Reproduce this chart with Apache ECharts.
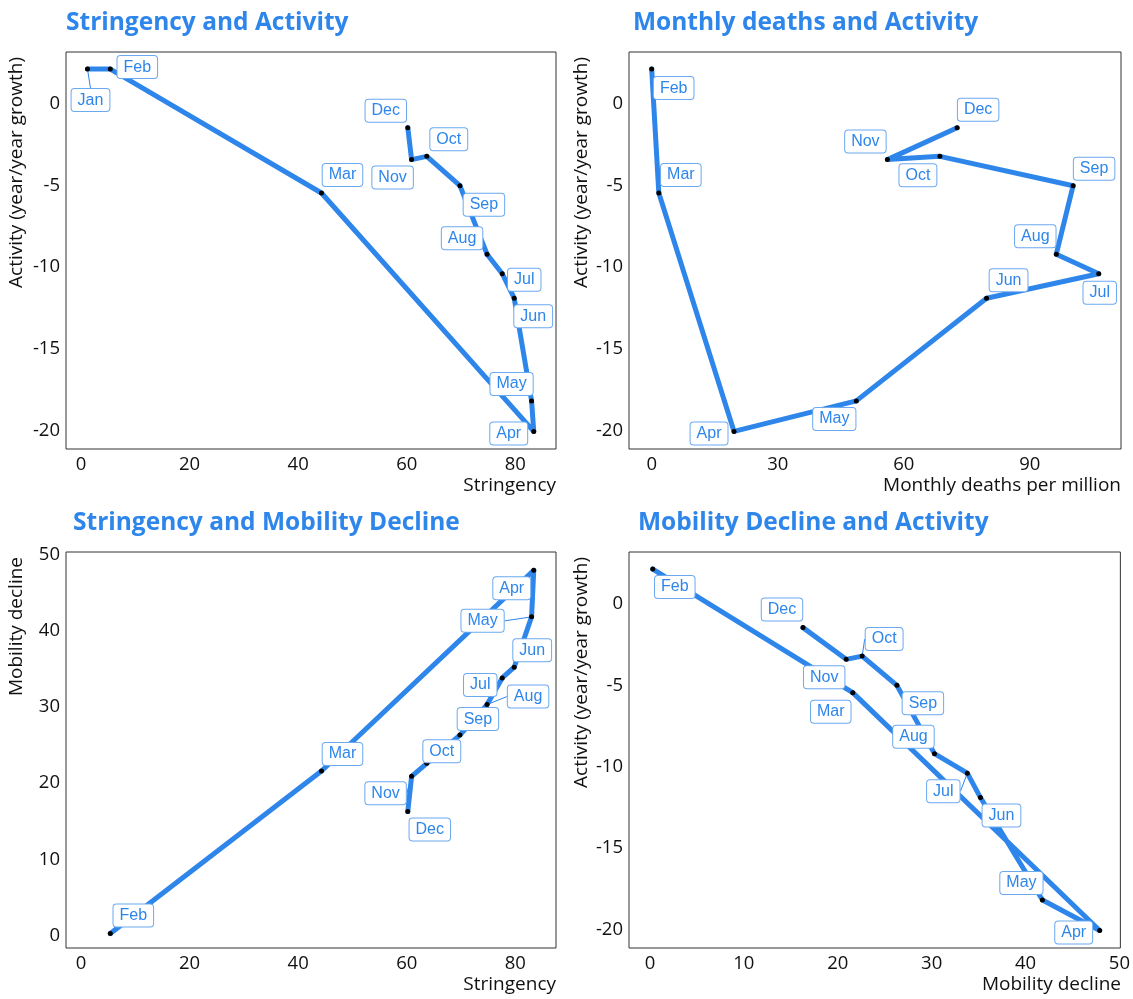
<!DOCTYPE html>
<html>
<head>
<meta charset="utf-8">
<script src="https://cdn.jsdelivr.net/npm/echarts@6/dist/echarts.min.js"></script>
<style>
html,body{margin:0;padding:0;background:#fff;}
#chart{width:1133px;height:999px;}
</style>
</head>
<body>
<div id="chart"></div>
<script>
// ---- data ----
const months = ['Jan','Feb','Mar','Apr','May','Jun','Jul','Aug','Sep','Oct','Nov','Dec'];
const stringency = [1.2, 5.4, 44.3, 83.4, 83.0, 79.8, 77.6, 74.8, 69.8, 63.7, 60.9, 60.2];
const activity   = [2.15, 2.15, -5.45, -20.07, -18.2, -11.9, -10.4, -9.2, -5.0, -3.2, -3.4, -1.45];
const deaths     = [null, 0, 1.7, 19.6, 48.7, 79.7, 106.4, 96.3, 100.3, 68.6, 56.1, 72.7];
const mobility   = [null, 0.3, 21.6, 47.9, 41.8, 35.2, 33.8, 30.3, 26.3, 22.6, 20.9, 16.3];

const titles = ['Stringency and Activity','Monthly deaths and Activity','Stringency and Mobility Decline','Mobility Decline and Activity'];
const xNames = ['Stringency','Monthly deaths per million','Stringency','Mobility decline'];
const yNames = ['Activity (year/year growth)','Activity (year/year growth)','Mobility decline','Activity (year/year growth)'];
const ticksStringency = [0,20,40,60,80];
const ticksDeaths = [0,30,60,90];
const ticksMobility = [0,10,20,30,40,50];
const ticksActivity = [0,-5,-10,-15,-20];

// ---- label layout (pixel offsets of label centres from points, Jan..Dec) ----
const labelOffsets = [
  [[3,31],[27,-2],[21,-18],[-25,2],[-20,-17],[19,18],[22,6],[-25,-16],[24,19],[22,-17],[-19,18],[-22,-17]],
  [null,[22,19],[22,-18],[-25,2],[-22,18],[22,-18],[1,19],[-21,-18],[21,-17],[-22,19],[-22,-18],[21,-18]],
  [null,[23,-18],[21,-17],[-22,18],[-49,4],[18,-17],[-22,7],[41,-8],[18,-16],[15,-12],[-26,17],[22,18]],
  [null,[22,18],[-22,19],[-26,2],[-21,-17],[21,18],[-24,18],[-21,-17],[26,18],[22,-17],[-22,18],[-21,-18]]
];
const guideLines = [['Jan'],[],['May','Aug','Nov'],['Jul','Oct']];

const BLUE = '#2E86EB';
const FONT = 'Open Sans';

const pairs = [
  [stringency, activity],
  [deaths, activity],
  [stringency, mobility],
  [mobility, activity]
];

const grids = [
  {left:66, top:52, width:490, height:397},
  {left:629, top:52, width:492, height:397},
  {left:66, top:552, width:490, height:396},
  {left:629, top:552, width:492, height:396}
];
const xRanges = [[-2.76,87.5],[-5.4,111.7],[-2.76,87.5],[-2.23,50.1]];
const yRanges = [[-21.15,3.2],[-21.15,3.2],[-1.6,50.3],[-21.15,3.2]];
const xTicks = [ticksStringency, ticksDeaths, ticksStringency, ticksMobility];
const yTicks = [ticksActivity, ticksActivity, ticksMobility, ticksActivity];
const titlePos = [[66,11],[633,11],[73,511],[638,511]];

const series = [];
pairs.forEach((p, k) => {
  const data = [];
  const offs = [];
  months.forEach((m, i) => {
    if (p[0][i] == null || p[1][i] == null) return;
    data.push({
      value: [p[0][i], p[1][i]],
      name: m,
      labelLine: {show: guideLines[k].indexOf(m) >= 0}
    });
    offs.push(labelOffsets[k][i]);
  });
  series.push({
    type: 'line',
    xAxisIndex: k, yAxisIndex: k,
    data: data,
    showSymbol: true,
    showAllSymbol: true,
    symbol: 'circle',
    symbolSize: 5,
    itemStyle: {color: '#000'},
    lineStyle: {color: BLUE, width: 5, join: 'round', cap: 'round'},
    emphasis: {disabled: true},
    silent: true,
    z: 2,
    label: {
      show: true,
      position: 'inside',
      align: 'center',
      verticalAlign: 'middle',
      formatter: p => p.name,
      fontFamily: 'Liberation Sans',
      fontSize: 16,
      color: BLUE,
      backgroundColor: '#fff',
      borderColor: '#6BA9F0',
      borderWidth: 1,
      borderRadius: 3,
      padding: [3,6,3,6]
    },
    labelLine: {show: false, lineStyle: {color: BLUE, width: 1}},
    labelLayout: function (params) {
      const o = offs[params.dataIndex] || [0,0];
      return {dx: o[0], dy: o[1]};
    }
  });
});

const graphic = [];
grids.forEach((g, k) => {
  graphic.push({
    type: 'text',
    x: g.left + g.width, y: g.top + g.height + 37,
    style: {text: xNames[k], fill: '#111', font: '19px "' + FONT + '"', align: 'right', verticalAlign: 'middle'}
  });
  graphic.push({
    type: 'text',
    x: k % 2 === 0 ? 17 : 582, y: g.top + 5,
    rotation: Math.PI / 2,
    style: {text: yNames[k], fill: '#111', font: '19px "' + FONT + '"', align: 'right', verticalAlign: 'middle'}
  });
});

const option = {
  animation: false,
  backgroundColor: '#fff',
  title: titles.map((t, k) => ({
    text: t, left: titlePos[k][0], top: titlePos[k][1], padding: 0,
    textStyle: {color: BLUE, fontFamily: FONT, fontWeight: 'bold', fontSize: 24.5}
  })),
  grid: grids.map(g => Object.assign({show: true, borderColor: '#333', borderWidth: 1, backgroundColor: 'transparent'}, g)),
  xAxis: grids.map((g, k) => ({
    type: 'value', gridIndex: k,
    min: xRanges[k][0], max: xRanges[k][1],
    axisLine: {show: false}, axisTick: {show: false}, splitLine: {show: false},
    axisLabel: {customValues: xTicks[k], color: '#111', fontFamily: FONT, fontSize: 18.5, margin: 6}
  })),
  yAxis: grids.map((g, k) => ({
    type: 'value', gridIndex: k,
    min: yRanges[k][0], max: yRanges[k][1],
    axisLine: {show: false}, axisTick: {show: false}, splitLine: {show: false},
    axisLabel: {customValues: yTicks[k], color: '#111', fontFamily: FONT, fontSize: 18.5, margin: 6}
  })),
  graphic: graphic,
  series: series
};

const chart = echarts.init(document.getElementById('chart'), null, {renderer: 'canvas'});
chart.setOption(option);
</script>
</body>
</html>
